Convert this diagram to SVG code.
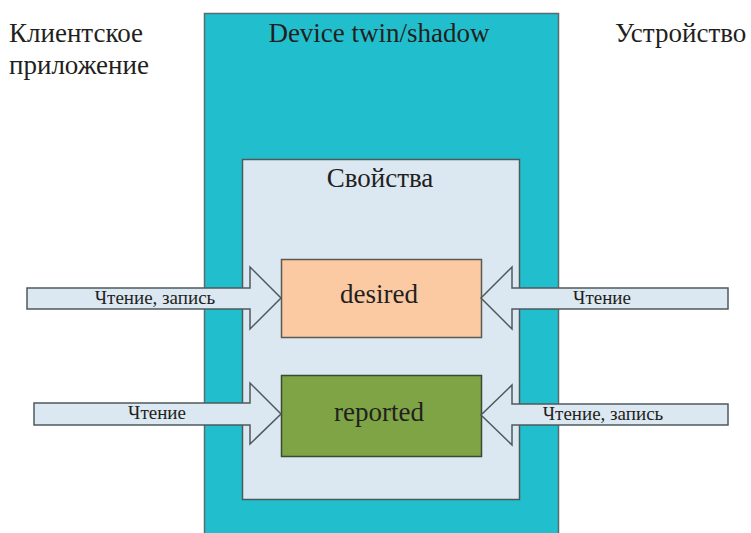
<svg xmlns="http://www.w3.org/2000/svg" width="751" height="533" viewBox="0 0 751 533">
<style>
text{font-family:"Liberation Serif","Times New Roman",serif;fill:#231f20}
.big{font-size:27px}
.small{font-size:19px}
.arrow{fill:#dce8f1;stroke:#4d5a5c;stroke-width:1.5;stroke-linejoin:miter}
</style>
<rect width="751" height="533" fill="#ffffff"/>
<g id="twin">
<rect x="204.5" y="13.5" width="354" height="530" fill="#21bfcd" stroke="#5a6b70" stroke-width="1.5"/>
<text class="big" x="379" y="42" text-anchor="middle">Device twin/shadow</text>
</g>
<g id="props">
<rect x="242.5" y="159.5" width="277" height="340" fill="#dce8f1" stroke="#4d5a5c" stroke-width="1.5"/>
<text class="big" x="380" y="187" text-anchor="middle">Свойства</text>
</g>
<g id="desired">
<rect x="281.5" y="259.5" width="200" height="78" fill="#fbc9a2" stroke="#5a5a55" stroke-width="1.5"/>
<text class="big" x="379" y="303" text-anchor="middle">desired</text>
</g>
<g id="reported">
<rect x="281.5" y="375.5" width="200" height="81" fill="#7ea446" stroke="#3c4a30" stroke-width="1.5"/>
<text class="big" x="379" y="421" text-anchor="middle">reported</text>
</g>
<g id="client">
<text class="big" x="9" y="42">Клиентское</text>
<text class="big" x="9" y="74">приложение</text>
</g>
<g id="device">
<text class="big" x="615" y="42">Устройство</text>
</g>
<g id="connectors">
<polygon class="arrow" points="27,288 250,288 250,267 281,298 250,329 250,309 27,309"/>
<text class="small" x="155" y="304" text-anchor="middle">Чтение, запись</text>
<polygon class="arrow" points="34,403 250,403 250,383 281,414 250,444 250,425 34,425"/>
<text class="small" x="157" y="419" text-anchor="middle">Чтение</text>
<polygon class="arrow" points="728,288 512,288 512,267 481,298 512,329 512,309 728,309"/>
<text class="small" x="602" y="304" text-anchor="middle">Чтение</text>
<polygon class="arrow" points="728,404 512,404 512,385 481,415 512,445 512,425 728,425"/>
<text class="small" x="603" y="420" text-anchor="middle">Чтение, запись</text>
</g>
</svg>
